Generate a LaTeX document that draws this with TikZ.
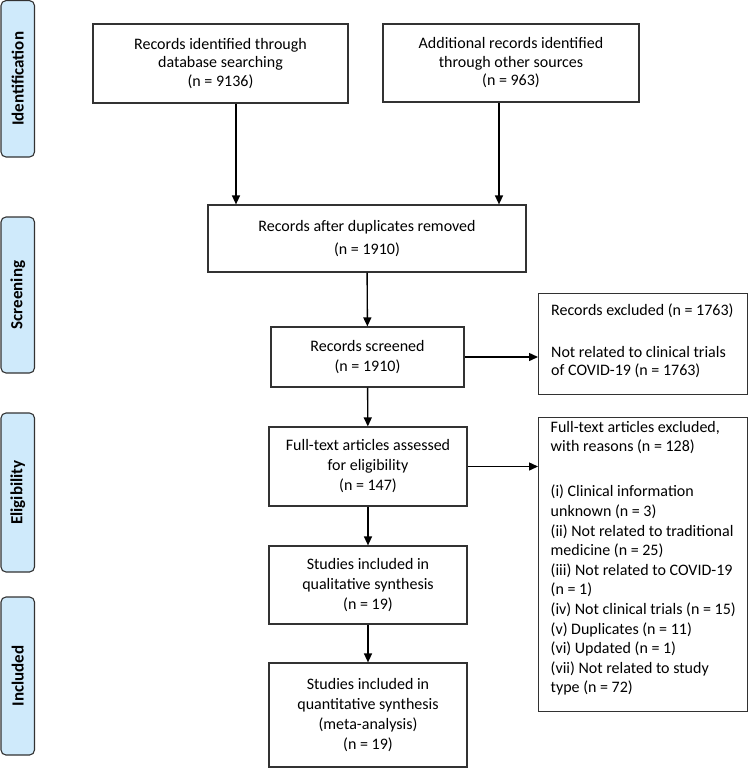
\documentclass[tikz,border=0pt]{standalone}
\usepackage{fontspec}
\setmainfont{Carlito}
\usetikzlibrary{arrows.meta}
\definecolor{tabblue}{RGB}{207,234,251}
\definecolor{edgegray}{RGB}{50,50,50}
\tikzset{
  box/.style={draw=edgegray, line width=1.2pt, inner sep=0pt, align=center,
    font=\fontsize{16}{20}\selectfont},
  frame/.style={draw=edgegray, line width=1.2pt, inner sep=0pt, anchor=north west},
  sidetext/.style={inner sep=0pt, align=left, anchor=north west},
  tab/.style={draw=edgegray, line width=1.1pt, fill=tabblue, rounded corners=5pt},
  tablabel/.style={rotate=90, font=\fontsize{17}{20}\selectfont\bfseries},
  arr/.style={line width=1.4pt, -{Triangle[length=9pt,width=8pt]}}
}
\begin{document}
\begin{tikzpicture}[x=1pt,y=-1pt]
\useasboundingbox (0,0) rectangle (749,769);
% side tabs
\draw[tab] (1,0.6) rectangle (34.5,157) node[midway, tablabel] (tid) {Identification};
\draw[tab] (1,217) rectangle (34.5,373) node[midway, tablabel] (tsc) {Screening};
\draw[tab] (1,413) rectangle (34.5,572) node[midway, tablabel] (tel) {Eligibility};
\draw[tab] (1,597) rectangle (34.5,755) node[midway, tablabel] (tin) {Included};
% main boxes
\node[box, minimum width=255pt, minimum height=79pt, font=\fontsize{16}{18.5}\selectfont] (b1) at (220.5,63.5)
  {Records identified through\\database searching\\(n = 9136)};
\node[box, minimum width=256pt, minimum height=78pt, font=\fontsize{16}{18.5}\selectfont] (b2) at (511,63)
  {Additional records identified\\through other sources\\(n = 963)};
\node[box, minimum width=318pt, minimum height=67pt, font=\fontsize{16}{22.5}\selectfont] (b3) at (367,238.5)
  {Records after duplicates removed\\(n = 1910)};
\node[box, minimum width=193pt, minimum height=60pt, font=\fontsize{16}{20.5}\selectfont] (b4) at (367.5,357)
  {Records screened\\(n = 1910)};
\node[box, minimum width=198pt, minimum height=79pt] (b5) at (368,466.5)
  {Full-text articles assessed\\for eligibility\\(n = 147)};
\node[box, minimum width=198pt, minimum height=78pt] (b6) at (368,585)
  {Studies included in\\qualitative synthesis\\(n = 19)};
\node[box, minimum width=198pt, minimum height=104pt] (b7) at (368,715)
  {Studies included in\\quantitative synthesis\\(meta-analysis)\\(n = 19)};
% exclusion boxes
\node[frame, minimum width=209pt, minimum height=101pt] (e1) at (538,293) {};
\node[sidetext, font=\fontsize{16}{18}\selectfont] (e1t) at (551,303.5)
  {Records excluded (n = 1763)\\[24pt]Not related to clinical trials\\of COVID-19 (n = 1763)};
\node[frame, minimum width=209pt, minimum height=294pt] (e2) at (538,417) {};
\node[sidetext, font=\fontsize{16}{19.6}\selectfont] (e2t) at (550.5,421)
  {Full-text articles excluded,\\with reasons (n = 128)\\[25.4pt]%
  (i) Clinical information\\unknown (n = 3)\\(ii) Not related to traditional\\medicine (n = 25)\\%
  (iii) Not related to COVID-19\\(n = 1)\\(iv) Not clinical trials (n = 15)\\(v) Duplicates (n = 11)\\%
  (vi) Updated (n = 1)\\(vii) Not related to study\\type (n = 72)};
% connectors
\draw[arr] (b1.south -| 236,0) -- (b3.north -| 236,0);
\draw[arr] (b2.south -| 499,0) -- (b3.north -| 499,0);
\draw[arr] (b3) -- (b4);
\draw[arr] (b4) -- (b5);
\draw[arr] (b5) -- (b6);
\draw[arr] (b6) -- (b7);
\draw[arr] (b4.east) -- (b4.east -| e1.west);
\draw[arr] (b5.east) -- (b5.east -| e2.west);
\end{tikzpicture}
\end{document}
